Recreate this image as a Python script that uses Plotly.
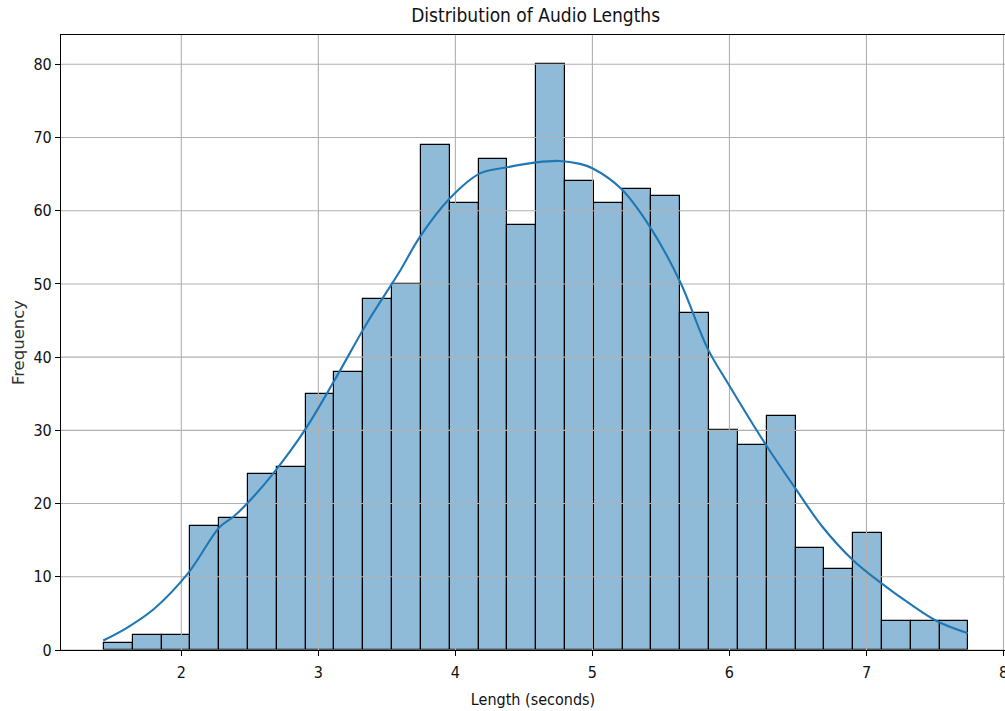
import plotly.graph_objects as go

# ---- data ----
bin_start = 1.4355
bin_width = 0.21028
counts = [1, 2, 2, 17, 18, 24, 25, 35, 38, 48, 50, 69, 61, 67, 58,
          80, 64, 61, 63, 62, 46, 30, 28, 32, 14, 11, 16, 4, 4, 4]

kde_x = [1.43, 1.6, 1.8, 2.05, 2.28, 2.38, 2.48, 2.67, 2.9, 3.12, 3.35,
         3.6, 3.74, 3.96, 4.18, 4.37, 4.59, 4.76, 4.91, 5.0, 5.21, 5.42,
         5.64, 5.84, 5.99, 6.26, 6.48, 6.68, 6.9, 7.11, 7.31, 7.52, 7.74]
kde_y = [1.3, 3.0, 5.6, 10.5, 16.8, 18.2, 20.0, 24.1, 30.0, 36.9, 44.5,
         51.9, 56.4, 61.7, 65.1, 65.9, 66.6, 66.8, 66.4, 65.8, 63.0, 57.8,
         50.3, 41.2, 36.4, 28.2, 22.1, 16.8, 12.3, 9.1, 6.4, 3.9, 2.3]

x_ticks = [2, 3, 4, 5, 6, 7, 8]
y_ticks = [0, 10, 20, 30, 40, 50, 60, 70, 80]
x_range = [1.122, 8.011]
y_range = [0, 84]

title = "Distribution of Audio Lengths"
x_label = "Length (seconds)"
y_label = "Frequency"

centers = [bin_start + (i + 0.5) * bin_width for i in range(len(counts))]

NARROW = "DejaVu Sans Condensed, Liberation Sans Narrow, DejaVu Sans, sans-serif"
FONT = "DejaVu Sans, Verdana, sans-serif"
GRID = "#b0b0b0"

fig = go.Figure()
fig.add_trace(go.Bar(
    x=centers, y=counts, width=bin_width,
    marker=dict(color="#8fbbd9", line=dict(color="#000000", width=1.2)),
    hoverinfo="x+y", showlegend=False,
))

# grid lines drawn above bars (as matplotlib does), below the KDE line
gx, gy = [], []
for t in x_ticks:
    gx += [t, t, None]
    gy += [y_range[0], y_range[1], None]
for t in y_ticks:
    gx += [x_range[0], x_range[1], None]
    gy += [t, t, None]
fig.add_trace(go.Scatter(x=gx, y=gy, mode="lines",
                         line=dict(color=GRID, width=1.1),
                         hoverinfo="skip", showlegend=False))

fig.add_trace(go.Scatter(x=kde_x, y=kde_y, mode="lines",
                         line=dict(color="#1f77b4", width=2.1, shape="spline"),
                         showlegend=False))

fig.update_layout(
    width=1005, height=711,
    margin=dict(l=61, r=0, t=35, b=61, autoexpand=False),
    paper_bgcolor="white", plot_bgcolor="white",
    bargap=0,
    font=dict(family=NARROW, size=16, color="#111111"),
    title=dict(text=title, x=0.533, xanchor="center", y=0.978,
               yanchor="middle", yref="container", automargin=False,
               font=dict(family=NARROW, size=19, color="#111111")),
)
fig.update_xaxes(
    range=x_range, tickmode="array", tickvals=x_ticks,
    showgrid=False, zeroline=False, automargin=False,
    showline=True, linecolor="black", linewidth=1.1, mirror=True,
    ticks="outside", ticklen=5, tickwidth=1.1, tickcolor="black",
    tickfont=dict(family=NARROW, size=16),
    ticklabeloverflow="allow", ticklabelstandoff=3,
    title=dict(text=x_label, font=dict(family=NARROW, size=16), standoff=12),
)
fig.update_yaxes(
    range=y_range, tickmode="array", tickvals=y_ticks,
    showgrid=False, zeroline=False, automargin=False,
    showline=True, linecolor="black", linewidth=1.1,
    ticks="outside", ticklen=5, tickwidth=1.1, tickcolor="black",
    tickfont=dict(family=NARROW, size=16),
    title=dict(text=y_label, font=dict(family=FONT, size=16.5, color="#333333"),
               standoff=4),
)

fig.write_html("out.html", config={"displayModeBar": False},
               post_script="document.body.style.margin='0px';"
                           "document.body.style.overflow='hidden';")
